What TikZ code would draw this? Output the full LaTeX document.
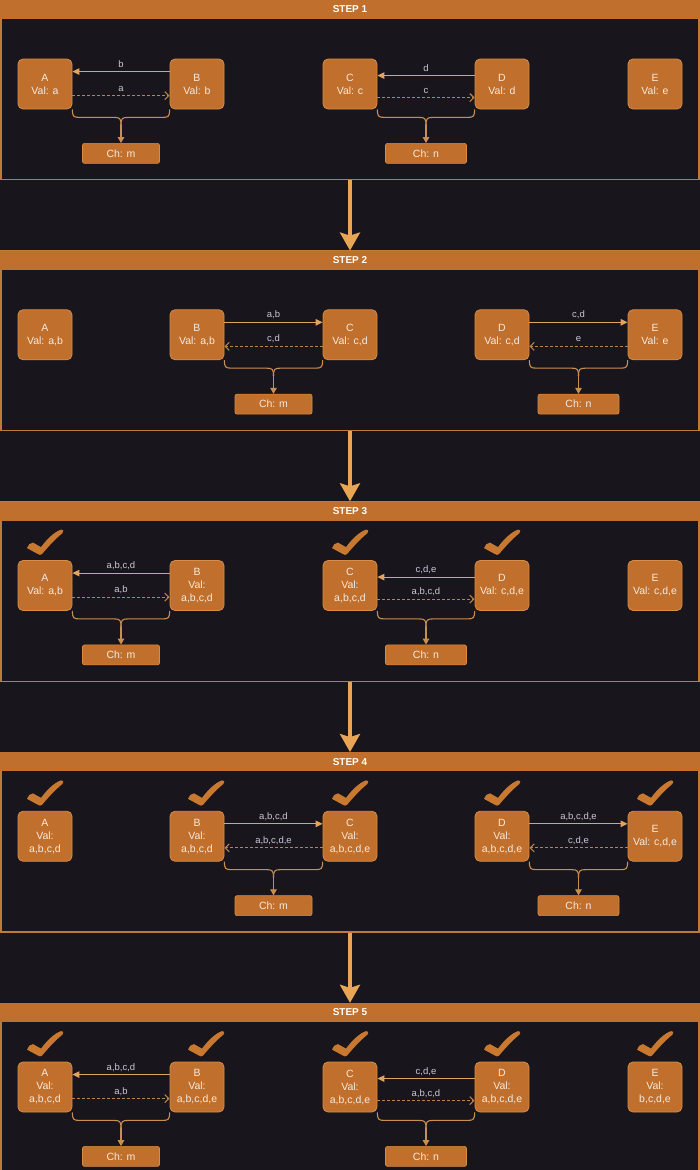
\documentclass[tikz,border=0pt]{standalone}
\usepackage{fontspec}
\setmainfont{Liberation Sans}
\usetikzlibrary{arrows.meta,calc}
\definecolor{bgc}{HTML}{18151D}
\definecolor{orf}{HTML}{C0702C}
\definecolor{ord}{HTML}{D88D45}
\definecolor{pan}{HTML}{C07A38}
\definecolor{txt}{HTML}{F6EADF}
\definecolor{labc}{HTML}{C9C7D6}
\definecolor{sol}{HTML}{E2A35E}
\definecolor{dsh}{HTML}{B8844E}
\definecolor{brc}{HTML}{C98F52}
\definecolor{bigc}{HTML}{E8A555}
\definecolor{chk}{HTML}{C9782F}
\tikzset{
 panel/.style={draw=pan, line width=1.1pt, minimum width=698pt, minimum height=179.5pt, inner sep=0pt},
 hdr/.style={fill=orf, minimum width=700pt, minimum height=19pt, inner sep=0pt, text=white, font=\bfseries\fontsize{10}{12}\selectfont},
 val/.style={fill=orf, draw=ord, line width=0.8pt, rounded corners=5pt, minimum width=54pt, minimum height=50pt, inner sep=1pt, align=center, text=txt, font=\fontsize{10.5}{13}\selectfont},
 chbox/.style={fill=orf, draw=ord, line width=0.6pt, rounded corners=2pt, minimum width=77pt, minimum height=20pt, inner sep=0pt, text=txt, font=\fontsize{10.5}{12}\selectfont},
 chboxn/.style={chbox, minimum width=81pt},
 lab/.style={text=labc, font=\fontsize{9.5}{11}\selectfont, anchor=base, inner sep=0pt},
 solidarr/.style={draw=sol, line width=1.2pt, -{Triangle[length=7pt,width=6.5pt]}},
 dasharr/.style={draw=dsh, line width=1.2pt, dash pattern=on 3pt off 2pt, -{Straight Barb[length=4pt,width=8pt]}},
 bracep/.style={draw=brc, line width=1.1pt},
 bracearr/.style={draw=brc, line width=1.1pt, -{Triangle[length=6pt,width=6.5pt]}},
 bigarr/.style={draw=bigc, line width=3.5pt, -{Stealth[length=18pt,width=20pt,inset=3pt]}},
 chkmark/.style={fill=chk},
}
\newcommand\brc[5]{%
 \coordinate (#3m) at ($(#1.south east)!0.5!(#2.south west)$);
 \draw[bracep] (#1.south east) .. controls +(0,7) and +(-6,0) .. ([shift={(7,8)}]#1.south east) -- ([shift={(-7,8)}]#3m) .. controls +(6,0) and +(0,-7) .. ([shift={(0,16)}]#3m);
 \draw[bracep] (#2.south west) .. controls +(0,7) and +(6,0) .. ([shift={(-7,8)}]#2.south west) -- ([shift={(7,8)}]#3m) .. controls +(-6,0) and +(0,-7) .. ([shift={(0,16)}]#3m);
 \node[#5] (#3) at ($(#3m)+(0,44)$) {#4};
 \draw[bracearr] ([shift={(0,16)}]#3m) -- (#3.north);
}
\newcommand\linkl[9]{%
 \draw[solidarr] ([yshift=-#5pt]#2.north west) -- ([yshift=-#5pt]#1.north east) node[lab, midway, yshift=4.5pt]{#3};
 \draw[dasharr] ([yshift=-#6pt]#1.north east) -- ([yshift=-#6pt]#2.north west) node[lab, midway, yshift=4.5pt]{#4};
 \brc{#1}{#2}{#7}{#8}{#9}}
\newcommand\linkr[9]{%
 \draw[solidarr] ([yshift=-#5pt]#1.north east) -- ([yshift=-#5pt]#2.north west) node[lab, midway, yshift=4.5pt]{#3};
 \draw[dasharr] ([yshift=-#6pt]#2.north west) -- ([yshift=-#6pt]#1.north east) node[lab, midway, yshift=4.5pt]{#4};
 \brc{#1}{#2}{#7}{#8}{#9}}
\newcommand\chkon[2][0]{%
 \fill[chkmark, shift={(#2.north)}, xshift=#1pt] (-18,-12) .. controls (-17,-15) and (-15,-17.5) .. (-12,-17.5) -- (-4,-13) .. controls (2,-21) and (9,-28) .. (16,-30.5) .. controls (18.5,-31) and (19,-29) .. (17.5,-27) .. controls (10,-21) and (2,-12) .. (-3,-6) .. controls (-4,-5) and (-6,-5) .. (-7,-6) -- cycle;}
\begin{document}
\begin{tikzpicture}[x=1pt,y=-1pt]
\useasboundingbox (0,0) rectangle (700,1170);
\clip (0,0) rectangle (700,1170);
\fill[bgc] (0,0) rectangle (700,1170);
% panels
\node[panel] (P1) at (350,90) {};
\node[hdr] (H1) at (350,9.5) {STEP 1};
\node[panel] (P2) at (350,340.75) {};
\node[hdr] (H2) at (350,260.25) {STEP 2};
\node[panel] (P3) at (350,591.5) {};
\node[hdr] (H3) at (350,511) {STEP 3};
\node[panel] (P4) at (350,842.25) {};
\node[hdr] (H4) at (350,761.75) {STEP 4};
\node[panel] (P5) at (350,1093) {};
\node[hdr] (H5) at (350,1012.5) {STEP 5};
\draw[bigarr] (P1.south) -- (H2.north);
\draw[bigarr] (P2.south) -- (H3.north);
\draw[bigarr] (P3.south) -- (H4.north);
\draw[bigarr] (P4.south) -- (H5.north);
% step 1
\node[val] (A1) at (45,84) {A\\Val: a};
\node[val] (B1) at (197,84) {B\\Val: b};
\node[val] (C1) at (350,84) {C\\Val: c};
\node[val] (D1) at (502,84) {D\\Val: d};
\node[val] (E1) at (655,84) {E\\Val: e};
\linkl{A1}{B1}{b}{a}{13}{37}{M1}{Ch: m}{chbox}
\linkl{C1}{D1}{d}{c}{17}{39}{N1}{Ch: n}{chboxn}
% step 2
\node[val] (A2) at (45,334.75) {A\\Val: a,b};
\node[val] (B2) at (197,334.75) {B\\Val: a,b};
\node[val] (C2) at (350,334.75) {C\\Val: c,d};
\node[val] (D2) at (502,334.75) {D\\Val: c,d};
\node[val] (E2) at (655,334.75) {E\\Val: e};
\linkr{B2}{C2}{a,b}{c,d}{13}{37}{M2}{Ch: m}{chbox}
\linkr{D2}{E2}{c,d}{e}{13}{37}{N2}{Ch: n}{chboxn}
% step 3
\node[val] (A3) at (45,585.5) {A\\Val: a,b};
\node[val] (B3) at (197,585.5) {B\\Val:\\a,b,c,d};
\node[val] (C3) at (350,585.5) {C\\Val:\\a,b,c,d};
\node[val] (D3) at (502,585.5) {D\\Val: c,d,e};
\node[val] (E3) at (655,585.5) {E\\Val: c,d,e};
\linkl{A3}{B3}{a,b,c,d}{a,b}{13}{37}{M3}{Ch: m}{chbox}
\linkl{C3}{D3}{c,d,e}{a,b,c,d}{17}{39}{N3}{Ch: n}{chboxn}
\chkon{A3}\chkon{C3}\chkon{D3}
% step 4
\node[val] (A4) at (45,836.25) {A\\Val:\\a,b,c,d};
\node[val] (B4) at (197,836.25) {B\\Val:\\a,b,c,d};
\node[val] (C4) at (350,836.25) {C\\Val:\\a,b,c,d,e};
\node[val] (D4) at (502,836.25) {D\\Val:\\a,b,c,d,e};
\node[val] (E4) at (655,836.25) {E\\Val: c,d,e};
\linkr{B4}{C4}{a,b,c,d}{a,b,c,d,e}{13}{37}{M4}{Ch: m}{chbox}
\linkr{D4}{E4}{a,b,c,d,e}{c,d,e}{13}{37}{N4}{Ch: n}{chboxn}
\chkon{A4}\chkon[9]{B4}\chkon{C4}\chkon{D4}\chkon{E4}
% step 5
\node[val] (A5) at (45,1087) {A\\Val:\\a,b,c,d};
\node[val] (B5) at (197,1087) {B\\Val:\\a,b,c,d,e};
\node[val] (C5) at (350,1087) {C\\Val:\\a,b,c,d,e};
\node[val] (D5) at (502,1087) {D\\Val:\\a,b,c,d,e};
\node[val] (E5) at (655,1087) {E\\Val:\\b,c,d,e};
\linkl{A5}{B5}{a,b,c,d}{a,b}{13}{37}{M5}{Ch: m}{chbox}
\linkl{C5}{D5}{c,d,e}{a,b,c,d}{17}{39}{N5}{Ch: n}{chboxn}
\chkon{A5}\chkon[9]{B5}\chkon{C5}\chkon{D5}\chkon{E5}
\end{tikzpicture}
\end{document}
